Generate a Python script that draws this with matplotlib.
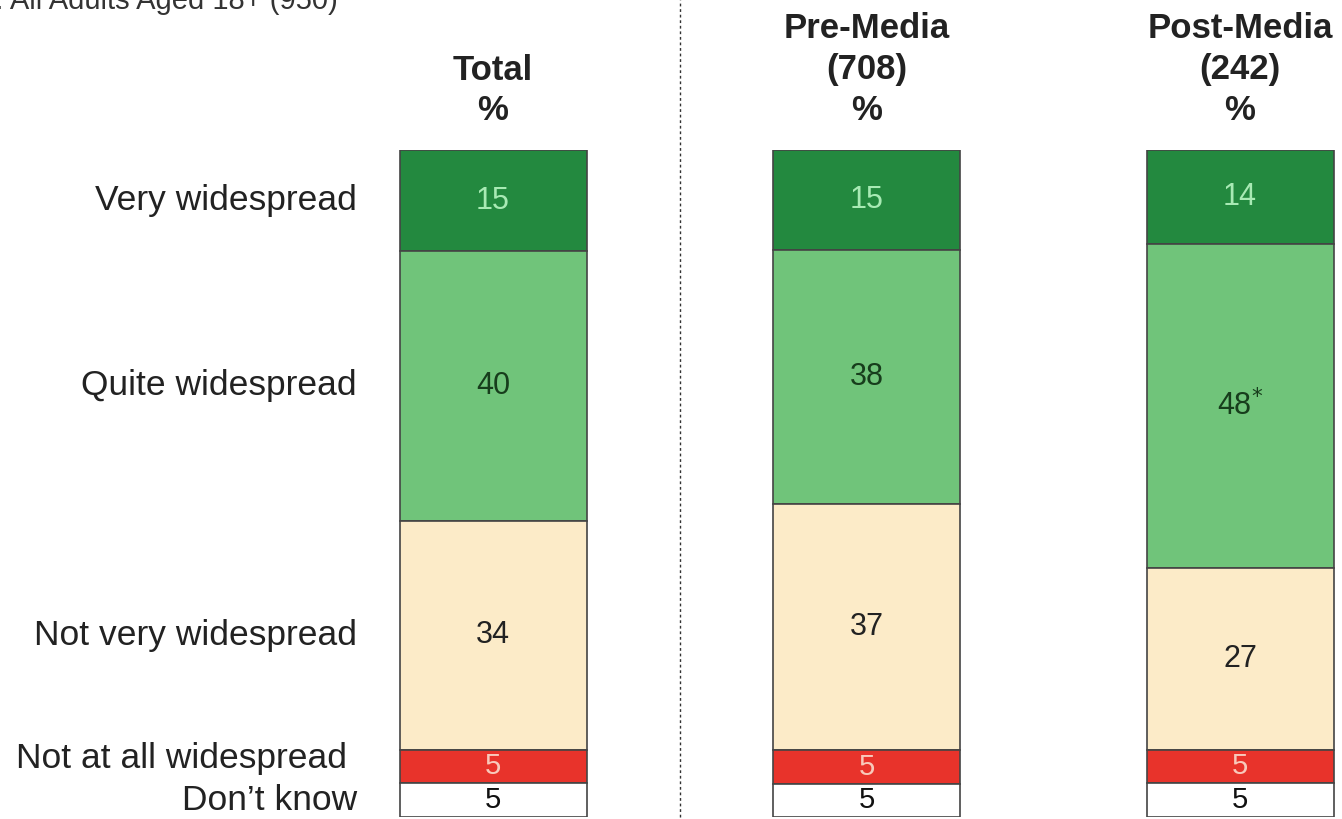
import matplotlib
matplotlib.use('Agg')
import matplotlib.pyplot as plt
import numpy as np

plt.rcParams['font.family'] = ['Liberation Sans', 'DejaVu Sans']

# data
categories = ['Very widespread', 'Quite widespread', 'Not very widespread',
              'Not at all widespread', 'Don\u2019t know']
groups = ['Total', 'Pre-Media', 'Post-Media']
group_bases = ['', '(708)', '(242)']
values = {
    'Total': [15, 40, 34, 5, 5],
    'Pre-Media': [15, 38, 37, 5, 5],
    'Post-Media': [14, 48, 27, 5, 5],
}
value_labels = {
    'Total': ['15', '40', '34', '5', '5'],
    'Pre-Media': ['15', '38', '37', '5', '5'],
    'Post-Media': ['14', '48$^{*}$', '27', '5', '5'],
}
base_text = 'Base: All Adults Aged 18+ (950)'

seg_colors = ['#23893f', '#70c47a', '#fcebc8', '#e8332b', '#ffffff']
txt_colors = ['#a8eab4', '#173d1c', '#222222', '#f8c9bb', '#111111']

W, H = 1342, 819
fig = plt.figure(figsize=(W / 100, H / 100), dpi=100)
fig.patch.set_facecolor('white')

# axes: bars run from y=150px to 817px, bar centres at 493 / 866 / 1240 px
ax_top, ax_bot = 150, 817
ax = fig.add_axes([0, (H - ax_bot) / H, 1, (ax_bot - ax_top) / H])
step = (1240 - 493) / 2
ax.set_xlim(-493 / step, (W - 493) / step)
ax.set_ylim(100, 0)
ax.axis('off')

width = 187 / step
for i, g in enumerate(groups):
    vals = np.array(values[g], dtype=float)
    share = vals / vals.sum() * 100
    bottom = 0
    for j, s in enumerate(share):
        ax.bar(i, s, width=width, bottom=bottom, color=seg_colors[j],
               edgecolor='#444444', linewidth=1.2, align='center')
        ax.text(i, bottom + s / 2, value_labels[g][j], ha='center', va='center',
                fontsize=22 if j < 3 else 21, color=txt_colors[j])
        bottom += s

# category labels from the Total column
tot = np.array(values['Total'], dtype=float)
tot = tot / tot.sum() * 100
centres = np.cumsum(tot) - tot / 2
label_x = (357 - 493) / step
for j, c in enumerate(categories):
    y = centres[j]
    x = label_x
    if j == 3:
        y -= 1.2
        x = (347 - 493) / step
    ax.text(x, y, c, ha='right', va='center', fontsize=25.5, color='#222222',
            clip_on=False)

# headers
for i, g in enumerate(groups):
    lines = [g] + ([group_bases[i]] if group_bases[i] else []) + ['%']
    ys = [110, 70, 28][:len(lines)][::-1]
    for line, ypx in zip(lines, ys):
        fig.text((493 + i * step) / W, 1 - ypx / H, line, ha='center', va='center',
                 fontsize=25, fontweight='bold', color='#222222')

# divider
ax.axvline(0.5, ymin=0, ymax=1 + ax_top / (ax_bot - ax_top), color='#333333',
           linestyle=(0, (2, 2)), linewidth=1, clip_on=False)

fig.text(338 / W, 1 - 9 / H, base_text, ha='right', va='baseline', fontsize=21,
         color='#333333')

fig.savefig('out.png', dpi=100)
